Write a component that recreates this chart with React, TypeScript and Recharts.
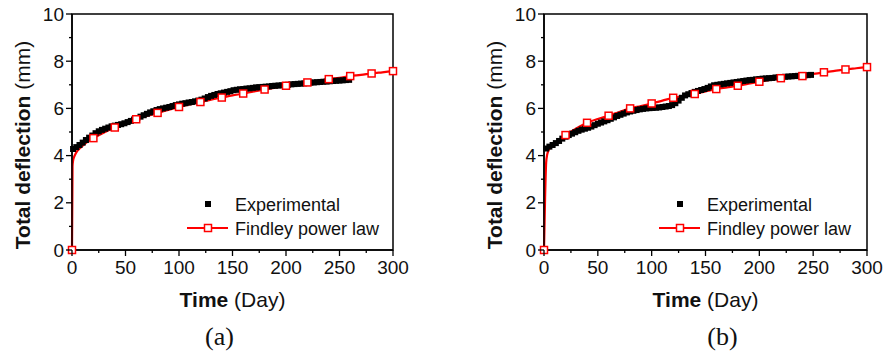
import React from "react";
import { ComposedChart, Line, Scatter, XAxis, YAxis, ReferenceArea, Legend } from "recharts";

const FONT = '"Liberation Sans", Arial, sans-serif';

const X_TICKS = [0, 25, 50, 75, 100, 125, 150, 175, 200, 225, 250, 275, 300];
const Y_TICKS = [0, 1, 2, 3, 4, 5, 6, 7, 8, 9, 10];
const FINDLEY_MARKS = [0, 20, 40, 60, 80, 100, 120, 140, 160, 180, 200, 220, 240, 260, 280, 300];

// (a) Findley power law fit
const FIND_A_T = [0, 0.5, 1, 2, 3, 5, 7, 10, 15, 20, 30, 40, 50, 60, 70, 80, 90, 100, 110, 120, 130, 140, 150, 160, 170, 180, 190, 200, 210, 220, 230, 240, 250, 260, 270, 280, 290, 300];
const FIND_A_V = [0, 3.55, 3.78, 3.95, 4.05, 4.2, 4.3, 4.42, 4.6, 4.74, 4.98, 5.19, 5.37, 5.54, 5.68, 5.81, 5.94, 6.06, 6.17, 6.27, 6.37, 6.46, 6.55, 6.63, 6.72, 6.8, 6.88, 6.96, 7.03, 7.1, 7.17, 7.24, 7.3, 7.37, 7.42, 7.48, 7.53, 7.58];

// (a) experimental
const EXP_A_T = [1, 4, 7, 10, 13, 16, 19, 22, 25, 28, 31, 34, 37, 40, 43, 46, 49, 52, 55, 58, 61, 64, 67, 70, 73, 76, 79, 82, 85, 88, 91, 94, 97, 100, 103, 106, 109, 112, 115, 118, 121, 124, 127, 130, 133, 136, 139, 142, 145, 148, 151, 154, 157, 160, 163, 166, 169, 172, 175, 178, 181, 184, 187, 190, 193, 196, 199, 202, 205, 208, 211, 214, 217, 220, 223, 226, 229, 232, 235, 238, 241, 244, 247, 250, 253, 256, 259];
const EXP_A_V = [4.28, 4.36, 4.45, 4.55, 4.66, 4.76, 4.85, 4.95, 5.03, 5.09, 5.14, 5.19, 5.24, 5.27, 5.3, 5.33, 5.37, 5.42, 5.47, 5.53, 5.59, 5.65, 5.71, 5.77, 5.83, 5.88, 5.93, 5.97, 6.0, 6.03, 6.06, 6.1, 6.14, 6.17, 6.2, 6.22, 6.25, 6.27, 6.3, 6.33, 6.37, 6.42, 6.48, 6.53, 6.57, 6.61, 6.64, 6.67, 6.7, 6.73, 6.77, 6.79, 6.81, 6.82, 6.84, 6.85, 6.87, 6.89, 6.9, 6.91, 6.92, 6.93, 6.95, 6.96, 6.97, 6.98, 6.99, 7.0, 7.02, 7.03, 7.04, 7.05, 7.06, 7.08, 7.09, 7.1, 7.11, 7.12, 7.13, 7.14, 7.15, 7.16, 7.17, 7.18, 7.19, 7.2, 7.21];

// (b) Findley power law fit
const FIND_B_T = [0, 1, 2, 3, 4, 5, 7, 10, 15, 20, 30, 40, 50, 60, 70, 80, 90, 100, 110, 120, 130, 140, 150, 160, 170, 180, 190, 200, 210, 220, 230, 240, 250, 260, 270, 280, 290, 300];
const FIND_B_V = [0, 2.2, 3.7, 4.05, 4.2, 4.28, 4.4, 4.52, 4.7, 4.87, 5.15, 5.39, 5.55, 5.69, 5.85, 6.0, 6.1, 6.21, 6.33, 6.45, 6.53, 6.61, 6.72, 6.82, 6.89, 6.96, 7.05, 7.13, 7.21, 7.28, 7.32, 7.37, 7.46, 7.53, 7.59, 7.65, 7.7, 7.75];

// (b) experimental
const EXP_B_T = [2, 5, 8, 11, 14, 17, 20, 23, 26, 29, 32, 35, 38, 41, 44, 47, 50, 53, 56, 59, 62, 65, 68, 71, 74, 77, 80, 83, 86, 89, 92, 95, 98, 101, 104, 107, 110, 113, 116, 119, 122, 125, 128, 131, 134, 137, 140, 143, 146, 149, 152, 155, 158, 161, 164, 167, 170, 173, 176, 179, 182, 185, 188, 191, 194, 197, 200, 203, 206, 209, 212, 215, 218, 221, 224, 227, 230, 233, 236, 239, 242, 245, 248];
const EXP_B_V = [4.3, 4.38, 4.45, 4.53, 4.62, 4.72, 4.8, 4.87, 4.93, 4.99, 5.05, 5.1, 5.14, 5.18, 5.23, 5.29, 5.35, 5.4, 5.45, 5.5, 5.56, 5.62, 5.68, 5.73, 5.78, 5.83, 5.87, 5.9, 5.93, 5.96, 5.98, 6.0, 6.01, 6.02, 6.03, 6.04, 6.06, 6.08, 6.1, 6.14, 6.22, 6.33, 6.45, 6.55, 6.6, 6.65, 6.7, 6.74, 6.78, 6.82, 6.87, 6.93, 6.98, 7.0, 7.02, 7.04, 7.06, 7.08, 7.1, 7.12, 7.14, 7.16, 7.18, 7.2, 7.21, 7.23, 7.24, 7.26, 7.27, 7.28, 7.29, 7.31, 7.32, 7.33, 7.34, 7.35, 7.36, 7.37, 7.38, 7.39, 7.4, 7.41, 7.42];

const zip = (ts: number[], vs: number[]) => ts.map((t, i) => ({ t, v: vs[i] }));

const H = 358;
const M_TOP = 14;
const M_LEFT = 12;
const Y_W = 60;
const X_H = 40;
const M_BOTTOM = 68;
const PLOT_LEFT = M_LEFT + Y_W;

function XTick(props: any) {
  const { x, y, payload } = props;
  const major = payload.value % 50 === 0;
  return (
    <g>
      <line x1={x} x2={x} y1={y} y2={y + (major ? 6 : 3)} stroke="#000" strokeWidth={1.3} />
      {major && (
        <text x={x} y={y + 24} textAnchor="middle" fontSize={19} fontFamily={FONT} fill="#111">
          {payload.value}
        </text>
      )}
    </g>
  );
}

function YTick(props: any) {
  const { x, y, payload } = props;
  const major = payload.value % 2 === 0;
  return (
    <g>
      <line x1={x} x2={x - (major ? 6 : 3)} y1={y} y2={y} stroke="#000" strokeWidth={1.3} />
      {major && (
        <text x={x - 8} y={y + 6.5} textAnchor="end" fontSize={19} fontFamily={FONT} fill="#111">
          {payload.value}
        </text>
      )}
    </g>
  );
}

function LegendBox() {
  return (
    <svg width={240} height={50} style={{ display: "block" }}>
      <rect x={25} y={9} width={6} height={6} fill="#000" />
      <text x={55} y={19} fontSize={18} fontFamily={FONT} fill="#111">Experimental</text>
      <line x1={7} x2={48} y1={36} y2={36} stroke="#ff0000" strokeWidth={2} />
      <rect x={24.5} y={32.5} width={7} height={7} fill="#fff" stroke="#ff0000" strokeWidth={1.5} />
      <text x={55} y={43} fontSize={18} fontFamily={FONT} fill="#111">Findley power law</text>
    </svg>
  );
}

interface PanelProps {
  width: number;
  right: number;
  findley: { t: number; v: number }[];
  exp: { t: number; v: number }[];
  caption: string;
  captionDx: number;
}

function Panel({ width, right, findley, exp, caption, captionDx }: PanelProps) {
  const plotW = width - right - PLOT_LEFT;
  const cx = PLOT_LEFT + plotW / 2;

  const renderDot = (p: any) => {
    const { cx: px, cy: py, payload, index } = p;
    if (!FINDLEY_MARKS.includes(payload.t)) return <g key={`d${index}`} />;
    return (
      <rect key={`d${index}`} x={px - 3.5} y={py - 3.5} width={7} height={7} fill="#fff" stroke="#ff0000" strokeWidth={1.5} />
    );
  };

  const xTitle = () => (
    <g>
      <text x={cx} y={307} textAnchor="middle" fontSize={21} fontFamily={FONT} fill="#111">
        <tspan fontWeight="bold">Time</tspan>
        <tspan> (Day)</tspan>
      </text>
      <text x={cx + captionDx} y={345} textAnchor="middle" fontSize={26} fontFamily='"Liberation Serif", "Times New Roman", serif' fill="#111">
        {caption}
      </text>
    </g>
  );

  const yTitle = () => {
    const lx = PLOT_LEFT - 50;
    const ly = 145;
    return (
      <text x={lx} y={ly} transform={`rotate(-90 ${lx} ${ly})`} textAnchor="middle" dominantBaseline="central" fontSize={21} fontFamily={FONT} fill="#111">
        <tspan fontWeight="bold">Total deflection</tspan>
        <tspan> (mm)</tspan>
      </text>
    );
  };

  return (
    <ComposedChart width={width} height={H} margin={{ top: M_TOP, right, bottom: M_BOTTOM, left: M_LEFT }}>
      <XAxis
        dataKey="t"
        type="number"
        domain={[0, 300]}
        ticks={X_TICKS}
        interval={0}
        height={X_H}
        tickSize={0}
        tickMargin={0}
        tick={<XTick />}
        axisLine={{ stroke: "#000", strokeWidth: 1.5 }}
        label={xTitle}
      />
      <YAxis
        dataKey="v"
        type="number"
        domain={[0, 10]}
        ticks={Y_TICKS}
        interval={0}
        width={Y_W}
        tickSize={0}
        tickMargin={0}
        tick={<YTick />}
        axisLine={{ stroke: "#000", strokeWidth: 1.5 }}
        label={yTitle}
      />
      <ReferenceArea x1={0} x2={300} y1={0} y2={10} fill="none" stroke="#000" strokeWidth={1.5} />
      <Scatter
        data={exp}
        dataKey="v"
        isAnimationActive={false}
        shape={(p: any) => <rect x={p.cx - 3} y={p.cy - 3} width={6} height={6} fill="#000" />}
      />
      <Line
        data={findley}
        dataKey="v"
        type="monotone"
        stroke="#ff0000"
        strokeWidth={2.2}
        dot={renderDot}
        activeDot={false}
        isAnimationActive={false}
      />
      <Legend
        layout="horizontal"
        verticalAlign="middle"
        align="center"
        content={() => <LegendBox />}
        wrapperStyle={{ left: 180, top: 192, width: 240, height: 50 }}
      />
    </ComposedChart>
  );
}

export default function App() {
  return (
    <div style={{ position: "absolute", left: 0, top: 0, width: 885, height: 358, background: "#fff" }}>
      <div style={{ position: "absolute", left: 0, top: 0 }}>
        <Panel width={420} right={27} findley={zip(FIND_A_T, FIND_A_V)} exp={zip(EXP_A_T, EXP_A_V)} caption="(a)" captionDx={-13} />
      </div>
      <div style={{ position: "absolute", left: 472, top: 0 }}>
        <Panel width={413} right={18} findley={zip(FIND_B_T, FIND_B_V)} exp={zip(EXP_B_T, EXP_B_V)} caption="(b)" captionDx={17} />
      </div>
    </div>
  );
}
